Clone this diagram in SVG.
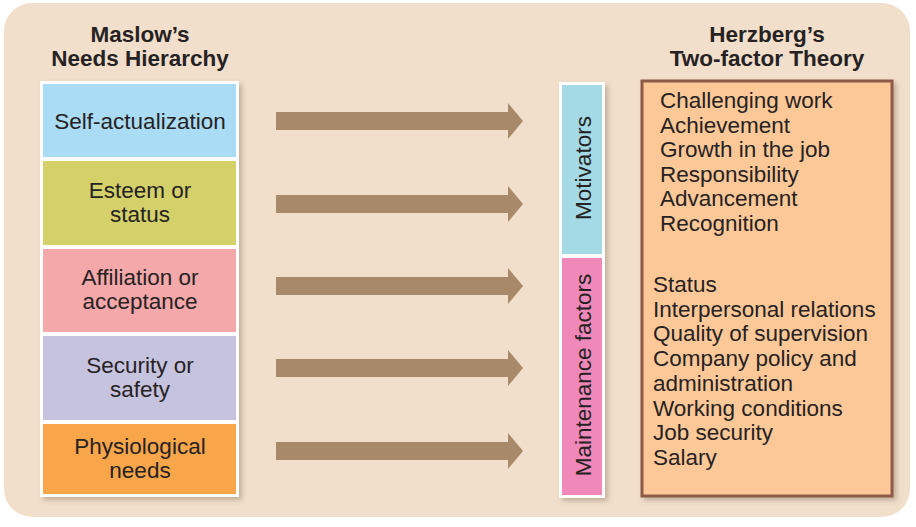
<svg xmlns="http://www.w3.org/2000/svg" width="916" height="527" viewBox="0 0 916 527">
<defs>
<filter id="sh" x="-10%" y="-10%" width="130%" height="130%">
<feDropShadow dx="3" dy="3" stdDeviation="2.5" flood-color="#6b5440" flood-opacity="0.35"/>
</filter>
<marker id="ah" viewBox="0 0 15 36" refX="0" refY="18" markerWidth="15" markerHeight="36" markerUnits="userSpaceOnUse" orient="auto">
<path d="M0,0 L15,18 L0,36 Z" fill="#a88a6a"/>
</marker>
</defs>
<style>
text{font-family:"Liberation Sans",Arial,sans-serif;font-size:22.5px;fill:#262223}
.t{font-weight:bold;text-anchor:middle}
.c{text-anchor:middle}
.arr{stroke:#a88a6a;stroke-width:18;fill:none;marker-end:url(#ah)}
</style>
<rect x="0" y="0" width="916" height="527" fill="#ffffff"/>
<rect x="4" y="3" width="906" height="514" rx="28" fill="#f1dfcb"/>

<g id="maslow-title">
<text class="t" x="140" y="42">Maslow’s</text>
<text class="t" x="140" y="66">Needs Hierarchy</text>
</g>
<g id="herzberg-title">
<text class="t" x="767" y="42">Herzberg’s</text>
<text class="t" x="767" y="66">Two-factor Theory</text>
</g>

<rect x="40" y="81" width="199" height="416" fill="#ffffff" filter="url(#sh)"/>
<g id="self-actualization">
<rect x="43" y="84" width="193" height="73" fill="#abdcf5"/>
<text class="c" x="140" y="129">Self-actualization</text>
</g>
<g id="esteem">
<rect x="43" y="161" width="193" height="84" fill="#d4d16a"/>
<text class="c" x="140" y="198">Esteem or</text>
<text class="c" x="140" y="222">status</text>
</g>
<g id="affiliation">
<rect x="43" y="249" width="193" height="83" fill="#f5a8a9"/>
<text class="c" x="140" y="285">Affiliation or</text>
<text class="c" x="140" y="309">acceptance</text>
</g>
<g id="security">
<rect x="43" y="336" width="193" height="84" fill="#c6c3df"/>
<text class="c" x="140" y="373">Security or</text>
<text class="c" x="140" y="397">safety</text>
</g>
<g id="physiological">
<rect x="43" y="424" width="193" height="70" fill="#f9a64b"/>
<text class="c" x="140" y="454">Physiological</text>
<text class="c" x="140" y="478">needs</text>
</g>

<g id="connectors">
<line class="arr" x1="276" y1="121" x2="508" y2="121"/>
<line class="arr" x1="276" y1="204" x2="508" y2="204"/>
<line class="arr" x1="276" y1="286" x2="508" y2="286"/>
<line class="arr" x1="276" y1="368" x2="508" y2="368"/>
<line class="arr" x1="276" y1="451" x2="508" y2="451"/>
</g>

<rect x="559" y="82" width="46" height="416" fill="#ffffff" filter="url(#sh)"/>
<g id="motivators">
<rect x="562" y="85" width="40" height="169" fill="#a4dae5"/>
<text class="c" transform="translate(591,168) rotate(-90)">Motivators</text>
</g>
<g id="maintenance">
<rect x="562" y="258" width="40" height="237" fill="#f089b9"/>
<text class="c" transform="translate(591,375) rotate(-90)">Maintenance factors</text>
</g>

<g id="factors">
<rect x="642" y="81" width="250" height="415" fill="#fdc897" stroke="#8c5a47" stroke-width="3" filter="url(#sh)"/>
<text x="660" y="108">Challenging work</text>
<text x="660" y="133">Achievement</text>
<text x="660" y="157">Growth in the job</text>
<text x="660" y="182">Responsibility</text>
<text x="660" y="206">Advancement</text>
<text x="660" y="231">Recognition</text>
<text x="653" y="292">Status</text>
<text x="653" y="317">Interpersonal relations</text>
<text x="653" y="341">Quality of supervision</text>
<text x="653" y="366">Company policy and</text>
<text x="653" y="391">administration</text>
<text x="653" y="416">Working conditions</text>
<text x="653" y="440">Job security</text>
<text x="653" y="465">Salary</text>
</g>
</svg>
